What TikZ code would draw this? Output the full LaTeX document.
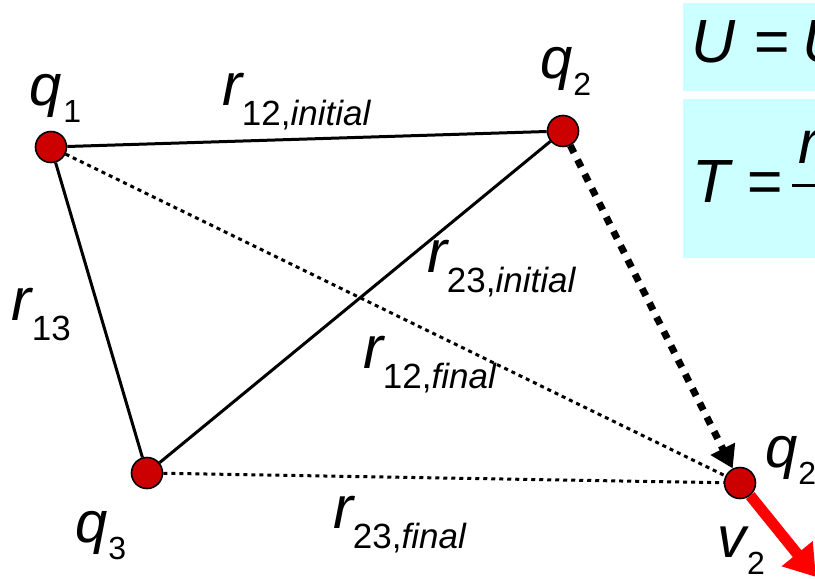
\documentclass[tikz,border=0pt]{standalone}
\usepackage{fontspec}
\setmainfont{Liberation Sans}
\usetikzlibrary{arrows.meta}
\definecolor{boxcyan}{HTML}{CCFFFF}
\definecolor{chargered}{HTML}{CC0000}
\definecolor{velred}{HTML}{FF0000}
\newcommand{\qlab}[2]{{\fontsize{58}{58}\selectfont\itshape #1}\hspace{1pt}\raisebox{-17pt}{\fontsize{32}{32}\selectfont #2}}
\newcommand{\rlab}[2]{{\fontsize{60}{60}\selectfont\itshape #1}\raisebox{-20pt}{\fontsize{35}{35}\selectfont #2}}
\begin{document}
\begin{tikzpicture}[x=1pt,y=-1pt,
  charge/.style={circle,draw=black,line width=1.6pt,fill=chargered,minimum size=31pt,inner sep=0pt},
  lab/.style={anchor=base west,inner sep=0pt,outer sep=0pt},
  bond/.style={line width=3pt},
  finalline/.style={line width=3pt,dash pattern=on 4pt off 4pt},
  move/.style={line width=7pt,dash pattern=on 8pt off 8pt,-{Triangle[length=22pt,width=26pt]}},
  vel/.style={line width=11pt,velred,-{Triangle[length=30pt,width=38pt]}},
  eqbox/.style={fill=boxcyan,draw=none}]
\useasboundingbox (0,0) rectangle (815,579);
\clip (0,0) rectangle (815,579);
% equation boxes
\fill[eqbox] (683,3) rectangle (830,91);
\fill[eqbox] (683,99) rectangle (830,258);
\node[lab] (equ) at (691,62) {\fontsize{61}{61}\selectfont\itshape U\hspace{18pt}=\hspace{14pt}U};
\node[lab] (eqt) at (692,202) {\fontsize{61}{61}\selectfont\itshape T\hspace{17pt}=};
\node[lab] (eqtr) at (798,163) {\fontsize{61}{61}\selectfont\itshape r};
\draw[line width=3pt] (792,185) -- (830,185);
% charges
\node[charge] (q1) at (51,147) {};
\node[charge] (q2) at (563,131) {};
\node[charge] (q3) at (147,473) {};
\node[charge] (q2f) at (740,483) {};
\coordinate (vend) at (816,577);
% connectors
\draw[bond] (q1) -- (q2);
\draw[bond] (q1) -- (q3);
\draw[bond] (q2) -- (q3);
\draw[finalline] (q1) -- (q2f);
\draw[finalline] (q3) -- (q2f);
\draw[move] (q2) -- (q2f);
\draw[vel] (q2f) -- (vend);
% labels
\node[lab] (lq1) at (30,105) {\qlab{q}{1}};
\node[lab] (lq2) at (540,78) {\qlab{q}{2}};
\node[lab] (lq3) at (75,542) {\qlab{q}{3}};
\node[lab] (lq2f) at (765,467) {\qlab{q}{2}};
\node[lab] (lv2) at (717,557) {\qlab{v}{2}};
\node[lab] (r12i) at (222,105) {\rlab{r}{12,\textit{initial}}};
\node[lab] (r13) at (12,320) {\rlab{r}{13}};
\node[lab] (r23i) at (427,272) {\rlab{r}{23,\textit{initial}}};
\node[lab] (r12f) at (363,368) {\rlab{r}{12,\textit{final}}};
\node[lab] (r23f) at (333,528) {\rlab{r}{23,\textit{final}}};
\end{tikzpicture}
\end{document}
